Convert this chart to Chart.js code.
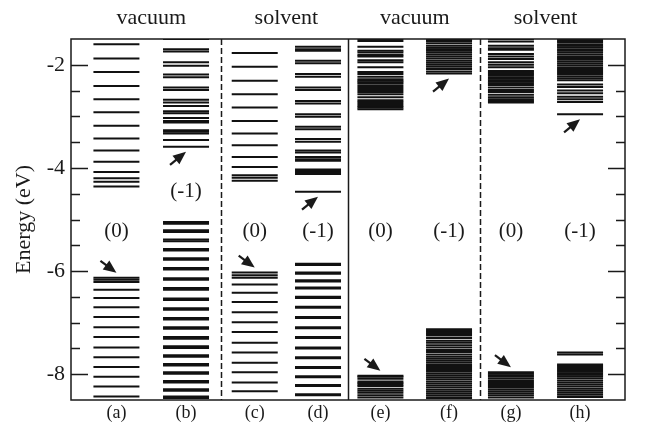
<!DOCTYPE html>
<html>
<head>
<meta charset="utf-8">
<script src="https://cdn.jsdelivr.net/npm/chart.js@4/dist/chart.umd.min.js"></script>
<style>
  body { margin: 0; background: #fff; }
  #wrap { width: 650px; height: 430px; }
</style>
</head>
<body>
<div id="wrap"><canvas id="levelsChart"></canvas></div>
<script>
// --- DADOS ---
const colLabels = ['(a)', '(b)', '(c)', '(d)', '(e)', '(f)', '(g)', '(h)'];
const groupLabels = ['vacuum', 'solvent', 'vacuum', 'solvent'];
const chargeLabels = ['(0)', '(-1)', '(0)', '(-1)', '(0)', '(-1)', '(0)', '(-1)'];
const yTickLabels = [-2, -4, -6, -8];

const levelsA = [-1.60, -1.88, -2.14, -2.41, -2.67, -2.92, -3.18, -3.43, -3.66, -3.88, -4.08, -4.20, -4.27, -4.36,
  -6.13, -6.17, -6.21, -6.36, -6.52, -6.70, -6.89, -7.09, -7.28, -7.48, -7.67, -7.86, -8.05, -8.24, -8.43];
const levelsB = [-1.50, -1.70, -1.74, -1.95, -2.02, -2.19, -2.24, -2.44, -2.49, -2.68, -2.73, -2.80, -2.90, -2.94,
  -3.03, -3.09, -3.12, -3.27, -3.30, -3.33, -3.46, -3.59,
  -5.05, -5.08, -5.21, -5.24, -5.39, -5.42, -5.57, -5.60, -5.75, -5.78, -5.94, -5.97, -6.14, -6.17, -6.33, -6.36,
  -6.53, -6.56, -6.72, -6.75, -6.91, -6.94, -7.09, -7.12, -7.28, -7.31, -7.46, -7.49, -7.63, -7.66, -7.80, -7.83,
  -7.96, -7.99, -8.13, -8.16, -8.29, -8.32, -8.43, -8.46];
const levelsC = [-1.77, -2.04, -2.31, -2.57, -2.83, -3.09, -3.33, -3.56, -3.79, -3.98, -4.14, -4.19, -4.25,
  -6.03, -6.08, -6.13, -6.26, -6.42, -6.60, -6.80, -6.99, -7.18, -7.39, -7.58, -7.78, -7.96, -8.16, -8.33];
const levelsD = [-1.65, -1.70, -1.73, -1.92, -1.97, -2.18, -2.23, -2.44, -2.49, -2.70, -2.75, -2.96, -3.01, -3.20,
  -3.25, -3.44, -3.49, -3.66, -3.70, -3.79, -3.83, -3.86, -4.03, -4.06, -4.09, -4.12, -4.46,
  -5.86, -5.88, -6.03, -6.05, -6.18, -6.20, -6.32, -6.34, -6.50, -6.52, -6.69, -6.71, -6.89, -6.91, -7.09, -7.11,
  -7.28, -7.30, -7.48, -7.50, -7.67, -7.69, -7.86, -7.88, -8.04, -8.06, -8.21, -8.23, -8.39, -8.41];
const levelsE = [-1.50, -1.54, -1.65, -1.73, -1.76, -1.81, -1.84, -1.91, -1.95, -2.05, -2.14, -2.18, -2.23, -2.28,
  -2.31, -2.34, -2.37, -2.41, -2.45, -2.49, -2.53, -2.57, -2.63, -2.69, -2.72, -2.76, -2.80, -2.83, -2.86,
  -8.03, -8.05, -8.09, -8.14, -8.17, -8.20, -8.23, -8.28, -8.32, -8.36, -8.41, -8.45];
const levelsF = [-1.50, -1.52, -1.54, -1.58, -1.63, -1.67, -1.70, -1.73, -1.76, -1.80, -1.84, -1.88, -1.92, -1.96,
  -2.00, -2.04, -2.08, -2.13, -2.17,
  -7.13, -7.16, -7.19, -7.22, -7.25, -7.30, -7.35, -7.39, -7.44, -7.48, -7.53, -7.57, -7.62, -7.66, -7.70, -7.74,
  -7.78, -7.82, -7.86, -7.90, -7.94, -7.98, -8.02, -8.06, -8.10, -8.14, -8.18, -8.22, -8.26, -8.30, -8.34, -8.38,
  -8.42, -8.46];
const levelsG = [-1.50, -1.55, -1.63, -1.68, -1.71, -1.79, -1.84, -1.89, -1.95, -2.00, -2.05, -2.12, -2.15, -2.18,
  -2.21, -2.24, -2.27, -2.30, -2.33, -2.36, -2.39, -2.44, -2.49, -2.53, -2.58, -2.63, -2.67, -2.70, -2.73,
  -7.96, -7.99, -8.02, -8.05, -8.09, -8.13, -8.17, -8.21, -8.25, -8.29, -8.33, -8.37, -8.41, -8.45];
const levelsH = [-1.50, -1.53, -1.56, -1.60, -1.63, -1.66, -1.70, -1.73, -1.76, -1.80, -1.84, -1.87, -1.90, -1.94,
  -1.98, -2.02, -2.06, -2.10, -2.14, -2.18, -2.22, -2.26, -2.30, -2.38, -2.43, -2.50, -2.55, -2.62, -2.67, -2.72,
  -2.96,
  -7.58, -7.62, -7.81, -7.84, -7.88, -7.92, -7.95, -7.98, -8.01, -8.04, -8.08, -8.12, -8.16, -8.20, -8.24, -8.28,
  -8.32, -8.36, -8.40, -8.44];

// nivel apontado pela seta (HOMO ou LUMO) e sentido
const arrowLevels = [-6.13, -3.59, -6.03, -4.46, -8.03, -2.17, -7.96, -2.96];
const arrowDown = [true, false, true, false, true, false, true, false];

const allLevels = [levelsA, levelsB, levelsC, levelsD, levelsE, levelsF, levelsG, levelsH];

// --- LAYOUT ---
const colPos = [0.656, 1.661, 2.653, 3.567, 4.468, 5.459, 6.353, 7.351];
const separators = [{ x: 2.164, dashed: true }, { x: 4.007, dashed: false }, { x: 5.906, dashed: true }];
const chargeY = [-5.23, -4.45, -5.23, -5.23, -5.23, -5.23, -5.23, -5.23];
const serif = '"Liberation Serif", "DejaVu Serif", serif';
const ink = '#1a1a1a';

const decor = {
  id: 'decor',
  afterDatasetsDraw(chart) {
    const ctx = chart.ctx;
    const area = chart.chartArea;
    const xs = chart.scales.x;
    const ys = chart.scales.y;
    ctx.save();

    // separadores verticais
    ctx.strokeStyle = ink;
    ctx.lineWidth = 1.5;
    separators.forEach(s => {
      const px = Math.round(xs.getPixelForValue(s.x)) + 0.5;
      ctx.setLineDash(s.dashed ? [6, 3] : []);
      ctx.beginPath();
      ctx.moveTo(px, area.top);
      ctx.lineTo(px, area.bottom);
      ctx.stroke();
    });
    ctx.setLineDash([]);

    // moldura
    ctx.strokeRect(area.left, area.top, area.right - area.left, area.bottom - area.top);

    // ticks para dentro (esquerda e direita)
    for (let v = -8; v <= -2; v += 0.5) {
      const py = Math.round(ys.getPixelForValue(v)) + 0.5;
      const len = (v % 2 === 0) ? 17 : 9;
      ctx.beginPath();
      ctx.moveTo(area.left, py); ctx.lineTo(area.left + len, py);
      ctx.moveTo(area.right, py); ctx.lineTo(area.right - len, py);
      ctx.stroke();
    }

    // textos
    ctx.fillStyle = ink;
    ctx.textAlign = 'center';
    ctx.textBaseline = 'middle';
    ctx.font = '22px ' + serif;
    groupLabels.forEach((t, i) => {
      const cx = (xs.getPixelForValue(colPos[2 * i]) + xs.getPixelForValue(colPos[2 * i + 1])) / 2;
      ctx.fillText(t, cx, 18);
    });
    ctx.font = '21px ' + serif;
    chargeLabels.forEach((t, i) => {
      ctx.fillText(t, xs.getPixelForValue(colPos[i]), ys.getPixelForValue(chargeY[i]));
    });

    // setas
    arrowLevels.forEach((lv, i) => {
      const tx = xs.getPixelForValue(colPos[i]);
      const ty = ys.getPixelForValue(lv) + (arrowDown[i] ? -5 : 5);
      const dx = 16, dy = arrowDown[i] ? -12 : 13;
      const ang = Math.atan2(-dy, dx);
      const sx = tx - dx, sy = ty + dy;
      ctx.lineWidth = 2.2;
      ctx.beginPath();
      ctx.moveTo(sx, sy);
      ctx.lineTo(tx - 6 * Math.cos(ang), ty - 6 * Math.sin(ang));
      ctx.stroke();
      const hl = 13, hw = 5.5;
      const bx = tx - hl * Math.cos(ang), by = ty - hl * Math.sin(ang);
      ctx.beginPath();
      ctx.moveTo(tx, ty);
      ctx.lineTo(bx + hw * Math.sin(ang), by - hw * Math.cos(ang));
      ctx.lineTo(bx - hw * Math.sin(ang), by + hw * Math.cos(ang));
      ctx.closePath();
      ctx.fill();
    });

    ctx.restore();
  }
};

const datasets = allLevels.map((lv, i) => ({
  label: colLabels[i],
  data: lv.map(e => ({ x: colPos[i], y: e })),
  pointStyle: 'line',
  pointRadius: 23,
  pointBorderWidth: 2,
  pointBorderColor: '#111',
  pointBackgroundColor: '#111',
  showLine: false
}));

new Chart(document.getElementById('levelsChart').getContext('2d'), {
  type: 'scatter',
  data: { datasets },
  options: {
    responsive: true,
    maintainAspectRatio: false,
    animation: false,
    events: [],
    layout: { padding: { top: 39, right: 6, left: 0, bottom: 0 } },
    plugins: { legend: { display: false }, tooltip: { enabled: false } },
    scales: {
      x: {
        type: 'linear', min: 0, max: 8,
        grid: { display: false, drawTicks: false }, border: { display: false },
        afterBuildTicks: s => { s.ticks = colPos.map(v => ({ value: v })); },
        afterFit: s => { s.height = 30; },
        ticks: {
          autoSkip: false, maxRotation: 0, padding: 2, color: ink,
          font: { family: serif, size: 18 },
          callback: (v, i) => colLabels[i]
        }
      },
      y: {
        min: -8.5, max: -1.5,
        grid: { display: false, drawTicks: false }, border: { display: false },
        afterBuildTicks: s => { s.ticks = yTickLabels.map(v => ({ value: v })); },
        afterFit: s => { s.width = 71; },
        title: {
          display: true, text: 'Energy (eV)', color: ink,
          font: { family: serif, size: 22 }, padding: { top: 11, bottom: 0 }
        },
        ticks: {
          autoSkip: false, padding: 6, color: ink,
          font: { family: serif, size: 22 },
          callback: v => String(v)
        }
      }
    }
  },
  plugins: [decor]
});
</script>
</body>
</html>
